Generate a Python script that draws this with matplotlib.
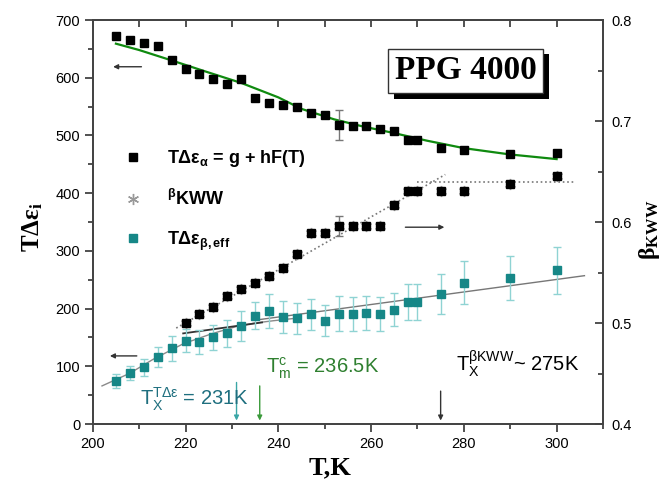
import matplotlib
matplotlib.use('Agg')
import matplotlib.pyplot as plt
import matplotlib.patheffects as pe
from matplotlib.lines import Line2D
from matplotlib.ticker import MultipleLocator

plt.rcParams['font.family'] = 'Liberation Sans'
plt.rcParams['mathtext.fontset'] = 'custom'
plt.rcParams['mathtext.rm'] = 'Liberation Sans'
plt.rcParams['mathtext.it'] = 'Liberation Sans'
plt.rcParams['mathtext.bf'] = 'Liberation Sans:bold'
plt.rcParams['mathtext.sf'] = 'Liberation Serif:bold'

# T*delta eps alpha (left axis)
T_alpha = [205, 208, 211, 214, 217, 220, 223, 226, 229, 232, 235, 238, 241, 244, 247, 250, 253,
           256, 259, 262, 265, 268, 270, 275, 280, 290, 300]
alpha_vals = [673, 666, 661, 655, 630, 615, 606, 597, 589, 597, 564, 556, 552, 549, 539, 535, 518,
              516, 516, 512, 507, 492, 492, 478, 474, 468, 470]
alpha_err_T = [253]
alpha_err = [26]

# fit g + hF(T)
fit_T = [205, 210, 217, 225, 232, 240, 245, 252, 258, 265, 272, 280, 290, 300]
fit_vals = [659, 648, 630, 609, 591, 566, 546, 528, 516, 504, 491, 478, 467, 459]

# beta KWW (right axis)
T_beta = [220, 223, 226, 229, 232, 235, 238, 241, 244, 247, 250, 253, 256, 259, 262, 265, 268,
          270, 275, 280, 290, 300]
beta_vals = [0.500, 0.509, 0.516, 0.527, 0.534, 0.540, 0.547, 0.554, 0.568, 0.589, 0.589, 0.596,
             0.596, 0.596, 0.596, 0.617, 0.631, 0.631, 0.631, 0.631, 0.638, 0.646]
beta_err_T = [253]
beta_err = [0.01]
beta_rise_T = [218, 276]
beta_rise = [0.495, 0.647]
beta_flat_T = [270, 304]
beta_flat = [0.640, 0.640]

# T*delta eps beta,eff (left axis)
T_eff = [205, 208, 211, 214, 217, 220, 223, 226, 229, 232, 235, 238, 241, 244, 247, 250, 253,
         256, 259, 262, 265, 268, 270, 275, 280, 290, 300]
eff_vals = [75, 88, 98, 116, 131, 144, 142, 150, 157, 169, 188, 196, 185, 183, 190, 179, 191,
            191, 192, 191, 198, 211, 211, 225, 245, 253, 266]
eff_err = [12, 12, 15, 18, 21, 20, 21, 22, 23, 26, 23, 30, 28, 27, 27, 27, 30,
           29, 29, 29, 29, 31, 31, 35, 37, 38, 40]
eff_curve_T = [202, 208, 213, 219.5, 225.5, 231, 235, 239, 243.5]
eff_curve = [66, 88, 112, 139, 156, 169, 175, 179, 183]
eff_short_T = [219.5, 236.5]
eff_short = [157, 176]
eff_line_T = [236, 306]
eff_line = [181, 257]

teal = '#168787'
teal_light = '#8fd3d3'

fig = plt.figure(figsize=(6.7, 4.82), dpi=100)
ax = fig.add_axes([0.1384, 0.1203, 0.7616, 0.8382])
ax2 = ax.twinx()

# fits
ax.plot(fit_T, fit_vals, color='#0f8a0f', lw=1.6, zorder=2)
ax.plot(eff_curve_T, eff_curve, color='#8a8a8a', lw=1, zorder=2)
ax.plot(eff_short_T, eff_short, color='#333333', lw=1.3, zorder=2)
ax.plot(eff_line_T, eff_line, color='#777777', lw=1, zorder=2)

# data
ax.errorbar(T_eff, eff_vals, yerr=eff_err, fmt='s', color=teal, ecolor=teal_light,
            elinewidth=1, capsize=3, capthick=1, ms=5.2, zorder=3)
ax.errorbar(alpha_err_T, [alpha_vals[T_alpha.index(t)] for t in alpha_err_T], yerr=alpha_err,
            fmt='none', ecolor='#777777', elinewidth=1, capsize=3, zorder=3)
ax.plot(T_alpha, alpha_vals, 's', color='black', ms=5.2, zorder=4)

ax2.plot(beta_rise_T, beta_rise, ':', color='#777777', lw=1.2)
ax2.plot(beta_flat_T, beta_flat, ':', color='#777777', lw=1.2)
ax2.errorbar(beta_err_T, [beta_vals[T_beta.index(t)] for t in beta_err_T], yerr=beta_err,
             fmt='none', ecolor='#777777', elinewidth=1, capsize=3)
ax2.plot(T_beta, beta_vals, marker=(6, 2, 0), ls='none', color='#999999', ms=8, mew=1)
ax2.plot(T_beta, beta_vals, 's', color='black', ms=5.2)

# axis arrows
arr = dict(arrowstyle='-|>', color='#333333', lw=1, mutation_scale=7, shrinkA=0, shrinkB=0)
ax.annotate('', xy=(204.4, 619), xytext=(210.5, 619), arrowprops=arr)
ax.annotate('', xy=(203.7, 118), xytext=(209.5, 118), arrowprops=arr)
ax.annotate('', xy=(275.8, 341), xytext=(267.4, 341), arrowprops=arr)

# transition arrows
ax.annotate('', xy=(231, 6), xytext=(231, 72),
            arrowprops=dict(arrowstyle='-|>', color='#3aa6a6', lw=1, mutation_scale=7, shrinkA=0, shrinkB=0))
ax.annotate('', xy=(236, 6), xytext=(236, 66),
            arrowprops=dict(arrowstyle='-|>', color='#3a9a3a', lw=1, mutation_scale=7, shrinkA=0, shrinkB=0))
ax.annotate('', xy=(275, 6), xytext=(275, 57),
            arrowprops=dict(arrowstyle='-|>', color='#333333', lw=1, mutation_scale=7, shrinkA=0, shrinkB=0))

ax.text(210.2, 33, r'T$_{\rm X}^{\rm T\Delta\epsilon}$ = 231K', color='#1f6f7f', fontsize=14.5, va='baseline')
ax.text(237.4, 88, r'T$_{\rm m}^{\rm c}$ = 236.5K', color='#2f8030', fontsize=14.5, va='baseline')
ax.text(278.3, 92, r'T$_{\rm X}^{\rm \beta KWW}$~ 275K', color='black', fontsize=14.5, va='baseline')

# title box with shadow
title = ax.text(280.4, 612, 'PPG 4000', family='Liberation Serif', weight='bold', fontsize=24,
                ha='center', va='center', color='black', zorder=6,
                bbox=dict(boxstyle='square,pad=0.2', fc='white', ec='#333333', lw=1))
title.get_bbox_patch().set_path_effects(
    [pe.SimplePatchShadow(offset=(4, -4), shadow_rgbFace='black', alpha=1), pe.Normal()])

# legend
handles = [Line2D([], [], marker='s', ls='none', color='black', ms=5.2),
           Line2D([], [], marker=(6, 2, 0), ls='none', color='#999999', ms=8),
           Line2D([], [], marker='s', ls='none', color=teal, ms=5.2)]
labels = [r'TΔε$_{\mathbf{α}}$ = g + hF(T)', r'${}^{\mathbf{β}}$KWW', r'TΔε$_{\mathbf{β,eff}}$']
ax2.legend(handles, labels, loc='upper left', bbox_to_anchor=(0.061, 0.682), frameon=False,
           prop={'weight': 'bold', 'size': 13}, handlelength=1, handletextpad=1.37,
           labelspacing=1.1, borderaxespad=0, borderpad=0)

# axes
ax.set_xlim(200, 310)
ax.set_ylim(0, 700)
ax2.set_ylim(0.4, 0.8)
ax.xaxis.set_major_locator(MultipleLocator(20))
ax.xaxis.set_minor_locator(MultipleLocator(10))
ax.yaxis.set_major_locator(MultipleLocator(100))
ax.yaxis.set_minor_locator(MultipleLocator(50))
ax2.yaxis.set_minor_locator(MultipleLocator(0.05))
ax2.set_yticks([0.4, 0.5, 0.6, 0.7, 0.8])
ax2.set_yticklabels(['0.4', '0.5', '0.6', '0.7', '0.8'])

ax.tick_params(which='major', direction='out', length=6, width=1.2, labelsize=10.5, pad=3, colors='#333333', labelcolor='black')
ax.tick_params(which='minor', direction='out', length=3.5, width=1.2, colors='#333333')
ax2.tick_params(which='major', direction='in', length=6, width=1.2, labelsize=10.5, pad=6, colors='#333333', labelcolor='black')
ax2.tick_params(which='minor', direction='in', length=3.5, width=1.2, colors='#333333')

sec = ax.secondary_xaxis('top')
sec.set_xticks(list(range(200, 311, 10)))
sec.tick_params(direction='in', length=5, width=1.2, labeltop=False, colors='#333333')
sec.spines['top'].set_color('#444444')
sec.spines['top'].set_linewidth(1.3)

for a in (ax, ax2):
    for s in a.spines.values():
        s.set_color('#444444')
        s.set_linewidth(1.3)

ax.set_xlabel('T,K', family='Liberation Serif', weight='bold', fontsize=19)
ax.xaxis.set_label_coords(0.465, -0.08)
ax.set_ylabel(r'$\mathsf{TΔε_i}$', fontsize=18)
ax.yaxis.set_label_coords(-0.0935, 0.488)
ax2.set_ylabel(r'$\mathsf{β_{KWW}}$', fontsize=17)
ax2.yaxis.set_label_coords(1.066, 0.48)

fig.savefig('out.png', dpi=100)
